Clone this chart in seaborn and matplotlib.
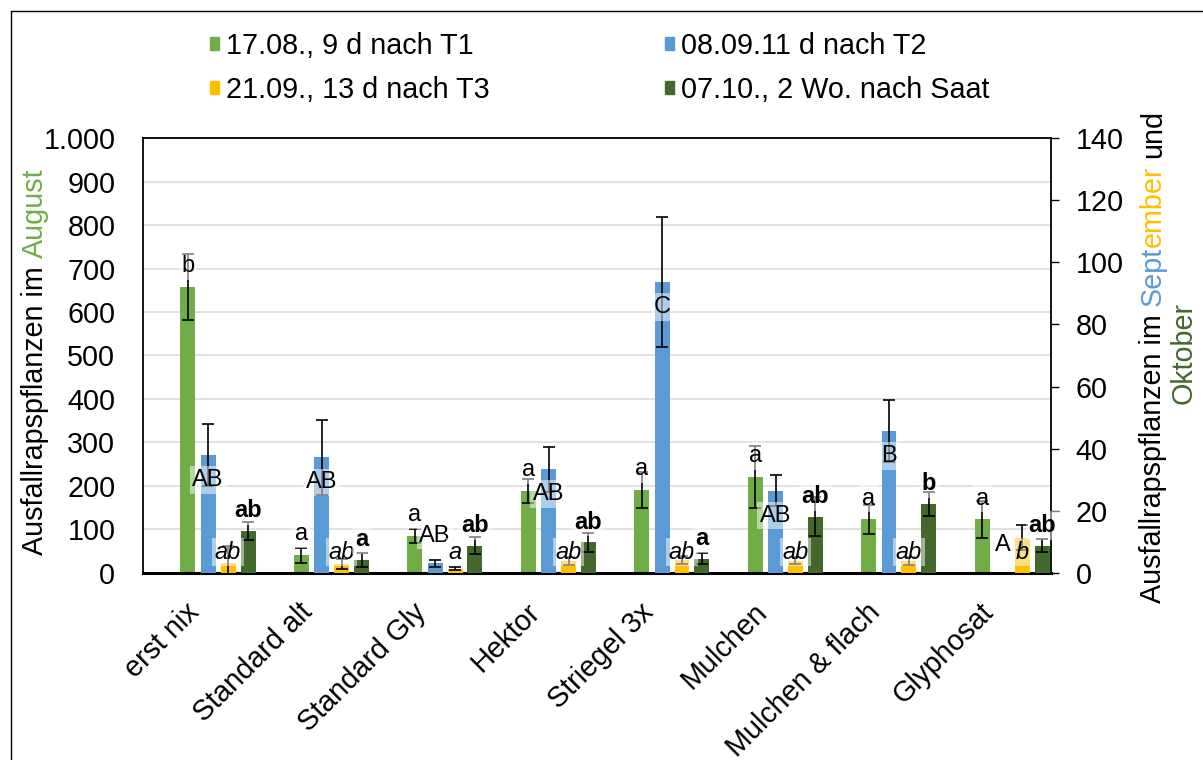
import numpy as np
import pandas as pd
import matplotlib.pyplot as plt
import seaborn as sns
from matplotlib.ticker import FuncFormatter, MultipleLocator
from matplotlib.lines import Line2D
from matplotlib.patches import Patch
from matplotlib.transforms import ScaledTranslation

########################################################
# Data
########################################################

categories = ["erst nix", "Standard alt", "Standard Gly", "Hektor",
              "Striegel 3x", "Mulchen", "Mulchen & flach", "Glyphosat"]

series_names = ["17.08., 9 d nach T1", "08.09.11 d nach T2",
                "21.09., 13 d nach T3", "07.10., 2 Wo. nach Saat"]

# August (left axis)
aug = [658, 41, 85, 188, 191, 221, 123, 123]
aug_err = [76, 17, 17, 27, 42, 71, 33, 42]
aug_lab = ["b", "a", "a", "a", "a", "a", "a", "a"]

# September 08.09. (right axis)
sep1 = [38.0, 37.2, 3.1, 33.4, 93.6, 26.5, 45.7, 0]
sep1_err = [10, 12, 1.1, 7.3, 21, 5, 10, 0]
sep1_lab = ["AB", "AB", "AB", "AB", "C", "AB", "B", "A"]

# September 21.09. (right axis)
sep2 = [3.3, 2.9, 1.4, 3.9, 4.2, 4.0, 3.9, 11.3]
sep2_err = [5.5, 1.5, 0.6, 1.2, 1.2, 1.2, 1.2, 4]
sep2_lab = ["ab", "ab", "a", "ab", "ab", "ab", "ab", "b"]

# October (right axis)
okt = [13.5, 4.2, 8.8, 9.9, 4.6, 18.1, 22.2, 8.8]
okt_err = [3, 2.2, 2.7, 3.1, 1.8, 6.3, 4, 2.2]
okt_lab = ["ab", "a", "ab", "ab", "a", "ab", "b", "ab"]

GREEN = "#70AD47"
BLUE = "#5B9BD5"
YELLOW = "#FFC000"
DARK = "#43682B"

########################################################
# Style
########################################################

sns.set_theme(style="white")
plt.rcParams["font.family"] = ["Liberation Sans", "DejaVu Sans"]
plt.rcParams["text.color"] = "black"
plt.rcParams["axes.labelcolor"] = "black"
plt.rcParams["xtick.color"] = "black"
plt.rcParams["ytick.color"] = "black"
FS = 20.7
LFS = 17
SPACE = 0.278 * FS

fig = plt.figure(figsize=(12.03, 7.6), dpi=100)
ax = fig.add_axes([0.1189, 0.2461, 0.7547, 0.5723])
ax2 = ax.twinx()
ax2.patch.set_visible(False)

x = np.arange(len(categories))
offsets = [-0.104, 0.073, 0.249, 0.425]
width = 0.132
box = dict(boxstyle="square,pad=0.12", fc="white", ec="none", alpha=0.5)


def draw_series(axis, vals, errs, offset, color):
    pos = x + offset
    df = pd.DataFrame({"pos": pos, "val": vals})
    sns.barplot(data=df, x="pos", y="val", native_scale=True, width=width,
                color=color, saturation=1, errorbar=None, linewidth=0, ax=axis)
    keep = np.array(vals) > 0
    axis.errorbar(pos[keep], np.array(vals)[keep], yerr=np.array(errs)[keep],
                  fmt="none", ecolor="black", elinewidth=1.2, capsize=4.5,
                  capthick=1.2, zorder=3)
    return pos


p_aug = draw_series(ax, aug, aug_err, offsets[0], GREEN)
p_s1 = draw_series(ax2, sep1, sep1_err, offsets[1], BLUE)
p_s2 = draw_series(ax2, sep2, sep2_err, offsets[2], YELLOW)
p_ok = draw_series(ax2, okt, okt_err, offsets[3], DARK)

# letters
for i in range(len(categories)):
    ax.annotate(aug_lab[i], xy=(p_aug[i], aug[i]), xytext=(0, 15),
                textcoords="offset points", ha="center", va="center",
                fontsize=LFS, color="black", bbox=box, zorder=4)
    tall = sep1[i] / 140 * 435 > 50
    ax2.annotate(sep1_lab[i], xy=(p_s1[i], sep1[i]),
                 xytext=(0, -18 if tall else 20), textcoords="offset points",
                 ha="center", va="center", fontsize=LFS, color="black",
                 bbox=box, zorder=4)
    ax2.annotate(sep2_lab[i], xy=(p_s2[i], 0), xytext=(0, 15),
                 textcoords="offset points", ha="center", va="center",
                 fontsize=LFS, style="italic", color="black", bbox=box, zorder=4)
    ax2.annotate(okt_lab[i], xy=(p_ok[i], okt[i]), xytext=(0, 14.5),
                 textcoords="offset points", ha="center", va="center",
                 fontsize=LFS, weight="bold", color="black", bbox=box, zorder=4)

########################################################
# Axes
########################################################

ax.set_xlim(-0.5, len(categories) - 0.5)
ax2.set_xlim(-0.5, len(categories) - 0.5)
ax.set_ylim(0, 1000)
ax2.set_ylim(0, 140)
ax.yaxis.set_major_locator(MultipleLocator(100))
ax2.yaxis.set_major_locator(MultipleLocator(20))
ax.yaxis.set_major_formatter(FuncFormatter(lambda v, p: f"{v:,.0f}".replace(",", ".")))
ax.grid(axis="y", color="#D9D9D9", lw=1.1)
ax.grid(axis="x", visible=False)
ax2.grid(False)
ax.set_axisbelow(True)

ax.set_xticks(x)
ax.set_xticklabels(categories, rotation=45, ha="right")
ax.tick_params(axis="x", length=0, pad=18, labelsize=FS, colors="black")
ax.tick_params(axis="y", length=0, pad=20, labelsize=FS, colors="black")
ax2.tick_params(axis="y", length=5.8, width=1, pad=12, direction="out",
                labelsize=FS, colors="black", right=True)
for lab in ax.get_xticklabels():
    lab.set_transform(lab.get_transform() + ScaledTranslation(0.05, 0, fig.dpi_scale_trans))

ax.set_xlabel("")
ax.set_ylabel("")
ax2.set_xlabel("")
ax2.set_ylabel("")

for side in ["left", "top"]:
    ax.spines[side].set_color("black")
    ax.spines[side].set_linewidth(1.3)
ax.spines["bottom"].set_color("black")
ax.spines["bottom"].set_linewidth(2.2)
ax.spines["right"].set_visible(False)
for side in ["left", "top", "bottom"]:
    ax2.spines[side].set_visible(False)
ax2.spines["right"].set_color("black")
ax2.spines["right"].set_linewidth(1.3)

########################################################
# Axis titles (multi coloured, vertical)
########################################################


def vertical_label(xf, yf, parts):
    txt, col = parts[0][0], parts[0][1]
    prev = fig.text(xf, yf, txt, rotation=90, ha="center", va="bottom",
                    color=col, fontsize=FS)
    for txt, col, gap in parts[1:]:
        prev = ax.annotate(txt, xy=(0, 1), xycoords=prev, xytext=(0, gap),
                           textcoords="offset points", rotation=90, ha="left",
                           va="bottom", color=col, fontsize=FS,
                           annotation_clip=False)


vertical_label(35 / 1203, 1 - 555 / 760,
               [("Ausfallrapspflanzen im", "black"), ("August", GREEN, SPACE)])
vertical_label(1153 / 1203, 1 - 603 / 760,
               [("Ausfallrapspflanzen im", "black"), ("Sept", BLUE, SPACE),
                ("ember", YELLOW, 0), ("und", "black", SPACE)])
fig.text(1184 / 1203, 1 - 353 / 760, "Oktober", rotation=90, ha="center",
         va="center", color=DARK, fontsize=FS)

########################################################
# Legend and frame
########################################################

handles = [Patch(color=GREEN), Patch(color=YELLOW), Patch(color=BLUE), Patch(color=DARK)]
labels = [series_names[0], series_names[2], series_names[1], series_names[3]]
fig.legend(handles, labels, loc="upper left", bbox_to_anchor=(210 / 1203, 1 - 32 / 760),
           ncol=2, frameon=False, fontsize=FS, handlelength=0.31, handleheight=0.31,
           handletextpad=0.25, columnspacing=6.1, labelspacing=0.56,
           borderpad=0, borderaxespad=0, labelcolor="black")

fig.add_artist(Line2D([11 / 1203, 1], [1 - 11 / 760, 1 - 11 / 760], color="black", lw=1))
fig.add_artist(Line2D([11 / 1203, 11 / 1203], [0, 1 - 11 / 760], color="black", lw=1))

fig.savefig("out.png", dpi=100)
